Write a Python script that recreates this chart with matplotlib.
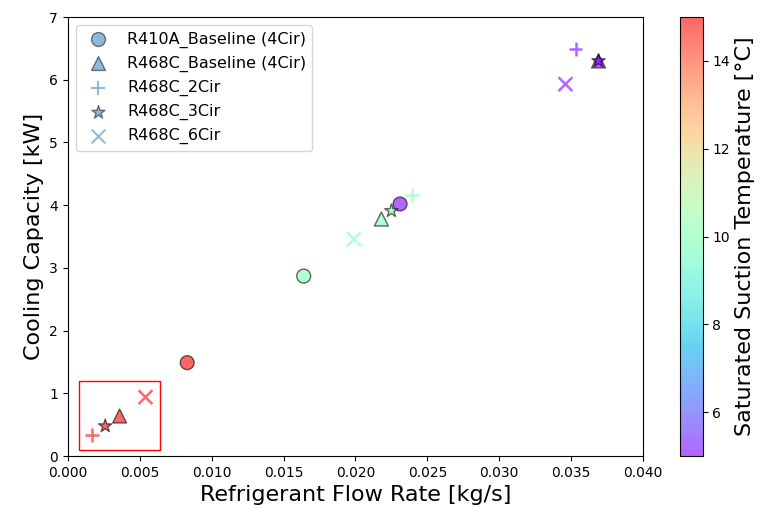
import matplotlib
matplotlib.use("Agg")
import matplotlib.pyplot as plt
from matplotlib.patches import Rectangle

# saturated suction temperature for each operating point [C]
temps = [15, 10, 5]

r410a_base_flow = [0.0083, 0.0164, 0.0231]
r410a_base_cap = [1.49, 2.87, 4.02]

r468c_base_flow = [0.0036, 0.0218, 0.0369]
r468c_base_cap = [0.64, 3.78, 6.30]

r468c_2cir_flow = [0.0017, 0.0239, 0.0353]
r468c_2cir_cap = [0.33, 4.16, 6.49]

r468c_3cir_flow = [0.0026, 0.0225, 0.0369]
r468c_3cir_cap = [0.48, 3.91, 6.30]

r468c_6cir_flow = [0.0054, 0.0199, 0.0346]
r468c_6cir_cap = [0.94, 3.46, 5.93]

fig = plt.figure(figsize=(7.62, 5.16), dpi=100)
ax = fig.add_axes([0.089, 0.116, 0.755, 0.851])
cax = fig.add_axes([0.892, 0.116, 0.030, 0.851])

common = dict(c=temps, cmap="rainbow", vmin=5, vmax=15, alpha=0.6, s=100)
sc = ax.scatter(r410a_base_flow, r410a_base_cap, marker="o", edgecolors="k",
                label="R410A_Baseline (4Cir)", **common)
ax.scatter(r468c_base_flow, r468c_base_cap, marker="^", edgecolors="k",
           label="R468C_Baseline (4Cir)", **common)
ax.scatter(r468c_2cir_flow, r468c_2cir_cap, marker="+", linewidths=1.8,
           label="R468C_2Cir", **common)
ax.scatter(r468c_3cir_flow, r468c_3cir_cap, marker="*", edgecolors="k",
           label="R468C_3Cir", **common)
ax.scatter(r468c_6cir_flow, r468c_6cir_cap, marker="x", linewidths=1.8,
           label="R468C_6Cir", **common)

ax.add_patch(Rectangle((0.0008, 0.1), 0.0056, 1.1, fill=False, edgecolor="red", linewidth=1))

ax.set_xlim(0, 0.04)
ax.set_ylim(0, 7)
ax.set_xlabel("Refrigerant Flow Rate [kg/s]", fontsize=16)
ax.set_ylabel("Cooling Capacity [kW]", fontsize=16)

# legend swatches show the plain default colour, not the temperature colour
leg = ax.legend(loc="upper left", fontsize=11.5)
for handle in leg.legend_handles:
    handle.set_array(None)
    handle.set_facecolor("C0")
    handle.set_alpha(0.5)
for handle in leg.legend_handles[2::2]:
    handle.set_edgecolor("C0")
    handle.set_linewidth(1.5)

cbar = fig.colorbar(sc, cax=cax)
cbar.set_label("Saturated Suction Temperature [°C]", fontsize=16)

fig.savefig("out.png", dpi=100)
